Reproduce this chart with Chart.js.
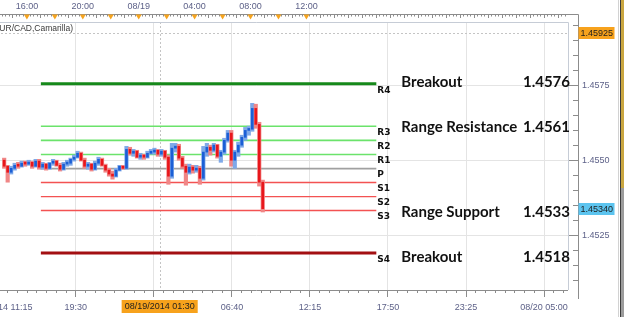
<!DOCTYPE html>
<html>
<head>
<meta charset="utf-8">
<script src="https://cdn.jsdelivr.net/npm/chart.js@4.4.1/dist/chart.umd.min.js"></script>
<style>
  html, body { margin: 0; padding: 0; background: #fff; overflow: hidden; }
  #wrap { position: relative; width: 624px; height: 317px; overflow: hidden; }
  #chart { position: absolute; left: -56px; top: 0; }
  #edge { position: absolute; left: 618px; top: 0; width: 6px; height: 317px;
    background: linear-gradient(to right, #d2d2d2 0 1px, #fff 1px 2px, #3c3c3c 2px 3px, #c9a640 3px 6px); }
  #edge2 { position: absolute; left: 621px; top: 188px; width: 3px; height: 129px; background: #9c9c9c; }
</style>
</head>
<body>
<div id="wrap">
  <canvas id="chart" width="680" height="317"></canvas>
  <div id="edge"></div>
  <div id="edge2"></div>
</div>
<script>
// ---------- data (hours counted from 08/18/2014 00:00) ----------
const SYMBOL_LABEL = "(EUR/CAD,Camarilla)";
const FIRST_BAR_HOUR = 14.25;   // 08/18 14:15
const BAR_HOURS = 0.25;         // 15 minute bars

const OPEN = [1.45501, 1.45481, 1.45461, 1.45474, 1.45484, 1.45481, 1.45491, 1.45488, 1.45494, 1.45481,
  1.45498, 1.45478, 1.45488, 1.45474, 1.45491, 1.45498, 1.45484, 1.45471, 1.45488, 1.45491,
  1.45504, 1.45511, 1.45524, 1.45501, 1.45481, 1.45488, 1.45471, 1.45491, 1.45504, 1.45484,
  1.45468, 1.45455, 1.45448, 1.45468, 1.45481, 1.45474, 1.45537, 1.45524, 1.45531, 1.45511,
  1.45518, 1.45511, 1.45524, 1.45528, 1.45534, 1.45521, 1.45531, 1.45511, 1.45448, 1.45541,
  1.45547, 1.45508, 1.45481, 1.45461, 1.45478, 1.45468, 1.45474, 1.45441, 1.45528, 1.45544,
  1.45534, 1.45551, 1.45514, 1.45528, 1.45567, 1.45591, 1.45501, 1.45528, 1.45551, 1.45577,
  1.45600, 1.45604, 1.45673, 1.45620, 1.45428];
const HIGH = [1.45508, 1.45484, 1.45481, 1.45491, 1.45494, 1.45498, 1.45498, 1.45501, 1.45498, 1.45504,
  1.45504, 1.45494, 1.45491, 1.45494, 1.45504, 1.45501, 1.45491, 1.45494, 1.45501, 1.45508,
  1.45518, 1.45531, 1.45528, 1.45508, 1.45494, 1.45491, 1.45498, 1.45511, 1.45508, 1.45488,
  1.45474, 1.45465, 1.45474, 1.45484, 1.45484, 1.45547, 1.45544, 1.45537, 1.45534, 1.45524,
  1.45521, 1.45531, 1.45537, 1.45541, 1.45537, 1.45537, 1.45534, 1.45518, 1.45557, 1.45557,
  1.45554, 1.45514, 1.45488, 1.45488, 1.45484, 1.45484, 1.45481, 1.45547, 1.45557, 1.45551,
  1.45557, 1.45554, 1.45534, 1.45574, 1.45600, 1.45600, 1.45534, 1.45561, 1.45584, 1.45610,
  1.45614, 1.45690, 1.45687, 1.45627, 1.45435];
const LOW = [1.45474, 1.45428, 1.45455, 1.45468, 1.45474, 1.45478, 1.45481, 1.45484, 1.45474, 1.45478,
  1.45471, 1.45471, 1.45468, 1.45471, 1.45484, 1.45481, 1.45465, 1.45468, 1.45481, 1.45484,
  1.45498, 1.45508, 1.45498, 1.45474, 1.45471, 1.45465, 1.45468, 1.45484, 1.45481, 1.45461,
  1.45448, 1.45438, 1.45445, 1.45465, 1.45471, 1.45471, 1.45518, 1.45514, 1.45508, 1.45504,
  1.45504, 1.45508, 1.45521, 1.45521, 1.45514, 1.45514, 1.45504, 1.45421, 1.45441, 1.45528,
  1.45501, 1.45474, 1.45418, 1.45455, 1.45458, 1.45461, 1.45421, 1.45435, 1.45514, 1.45518,
  1.45528, 1.45508, 1.45494, 1.45521, 1.45561, 1.45481, 1.45474, 1.45514, 1.45544, 1.45567,
  1.45584, 1.45597, 1.45607, 1.45415, 1.45329];
const CLOSE = [1.45481, 1.45461, 1.45474, 1.45484, 1.45481, 1.45491, 1.45488, 1.45494, 1.45481, 1.45498,
  1.45478, 1.45488, 1.45474, 1.45491, 1.45498, 1.45484, 1.45471, 1.45488, 1.45491, 1.45504,
  1.45511, 1.45524, 1.45501, 1.45481, 1.45488, 1.45471, 1.45491, 1.45504, 1.45484, 1.45468,
  1.45455, 1.45448, 1.45468, 1.45481, 1.45474, 1.45537, 1.45524, 1.45531, 1.45511, 1.45518,
  1.45511, 1.45524, 1.45528, 1.45534, 1.45521, 1.45531, 1.45511, 1.45448, 1.45541, 1.45547,
  1.45508, 1.45481, 1.45461, 1.45478, 1.45468, 1.45474, 1.45441, 1.45528, 1.45544, 1.45534,
  1.45551, 1.45514, 1.45528, 1.45567, 1.45591, 1.45501, 1.45528, 1.45551, 1.45577, 1.45600,
  1.45604, 1.45673, 1.45620, 1.45428, 1.45340];

// Camarilla levels, drawn from 08/18 17:00 to 08/19 17:00
const LEVEL_NAMES = ['R4', 'R3', 'R2', 'R1', 'P', 'S1', 'S2', 'S3', 'S4'];
const LEVEL_VALUES = [1.45755, 1.45614, 1.45567, 1.45520, 1.45473, 1.45427, 1.45380, 1.45334, 1.45193];
const LEVEL_START = 17;
const LEVEL_END = 41;

// text notes on the right
const NOTE_LABELS = ['Breakout', 'Range Resistance', 'Range Support', 'Breakout'];
const NOTE_VALUES = ['1.4576', '1.4561', '1.4533', '1.4518'];

// axes
const TOP_TICK_HOURS = [16, 20, 24, 28, 32, 36];
const TOP_TICK_LABELS = ['16:00', '20:00', '08/19', '04:00', '08:00', '12:00'];
const MARKER_HOURS = [16, 18, 20, 22, 24, 26, 28, 30, 32, 34, 36];
const BOTTOM_TICK_HOURS = [13.917, 19.5, 25.083, 30.667, 36.25, 41.833, 47.417, 53];
const BOTTOM_TICK_LABELS = ['08/18/2014 11:15', '19:30', '01:05', '06:40', '12:15', '17:50', '23:25', '08/20 05:00'];
const PRICE_LABELS = ['1.4525', '1.4550', '1.4575'];

// crosshair
const CURSOR_HOUR = 25.5;
const CURSOR_LABEL = '08/19/2014 01:30';
const CURSOR_PRICE = 1.45925;

const X_MIN = 10.143, X_MAX = 54.714;
const Y_MIN = 1.4507, Y_MAX = 1.4596;

// ---------- styles ----------
const LEVEL_STYLE = {
  R4: ['#16891a', 3], R3: ['#6be36b', 1.6], R2: ['#6be36b', 1.6], R1: ['#6be36b', 1.6],
  P: ['#a0a0a0', 1.6], S1: ['#f35252', 1.4], S2: ['#f35252', 1.4], S3: ['#f35252', 1.4], S4: ['#a30f12', 3]
};
const UP_BODY = '#1b5fd6', UP_WICK = '#7fa9e8';
const DOWN_BODY = '#e8161b', DOWN_WICK = '#f08686';
const GRID = '#e4e4e4', AXIS = '#8c8c8c', FRAME = '#c6ccd6';
const TEXT = '#5d6188';

Chart.defaults.font.family = "'Liberation Sans', Arial, sans-serif";
Chart.defaults.font.size = 9;
Chart.defaults.color = TEXT;

// ---------- ticks ----------
function bottomTicks() {
  const out = [];
  const step = (BOTTOM_TICK_HOURS[1] - BOTTOM_TICK_HOURS[0]) / 8;
  for (let k = 5; k >= 1; k--) out.push({ value: BOTTOM_TICK_HOURS[0] - k * step, label: '', major: false });
  BOTTOM_TICK_HOURS.forEach((h, i) => {
    out.push({ value: h, label: BOTTOM_TICK_LABELS[i], major: true });
    const next = BOTTOM_TICK_HOURS[i + 1];
    const s = next ? (next - h) / 8 : step;
    for (let k = 1; k < 8; k++) {
      const v = h + k * s;
      if (v <= X_MAX) out.push({ value: v, label: '', major: false });
    }
  });
  return out;
}
function topTicks() {
  const out = [];
  for (let q = Math.ceil(X_MIN * 4); q <= X_MAX * 4; q++) {
    const v = q / 4;
    const k = TOP_TICK_HOURS.indexOf(v);
    out.push({ value: v, label: k >= 0 ? TOP_TICK_LABELS[k] : '', hour: q % 4 === 0 });
  }
  return out;
}
function priceTicks() {
  const out = [];
  for (let p = Math.ceil(Y_MIN * 2000); p <= Y_MAX * 2000; p++) {
    const v = p / 2000;
    const label = PRICE_LABELS.find(s => Math.abs(parseFloat(s) - v) < 1e-7) || '';
    out.push({ value: v, label: label, major: label !== '' });
  }
  return out;
}
const BT = bottomTicks(), TT = topTicks(), PT = priceTicks();

// ---------- datasets ----------
const barTimes = OPEN.map((_, i) => FIRST_BAR_HOUR + (i + 0.5) * BAR_HOURS);
const isUp = i => CLOSE[i] >= OPEN[i];

const datasets = [
  {
    type: 'bar', order: 1, grouped: false, barThickness: 3.5,
    data: barTimes.map((t, i) => ({ x: t, y: [LOW[i], HIGH[i]] })),
    backgroundColor: c => isUp(c.dataIndex) ? UP_WICK : DOWN_WICK
  },
  {
    type: 'bar', order: 0, grouped: false, barThickness: 2, minBarLength: 2,
    data: barTimes.map((t, i) => ({ x: t, y: [OPEN[i], CLOSE[i]] })),
    backgroundColor: c => isUp(c.dataIndex) ? UP_BODY : DOWN_BODY
  }
];
LEVEL_NAMES.forEach((name, i) => {
  datasets.push({
    type: 'line', order: 2,
    data: [{ x: LEVEL_START, y: LEVEL_VALUES[i] }, { x: LEVEL_END, y: LEVEL_VALUES[i] }],
    borderColor: LEVEL_STYLE[name][0], borderWidth: LEVEL_STYLE[name][1], pointRadius: 0
  });
});

// ---------- extra drawing ----------
const decor = {
  id: 'decor',
  beforeDatasetsDraw(chart) {
    const { ctx, chartArea: a } = chart;
    const x = chart.scales.x, y = chart.scales.y;
    const cy = Math.round(y.getPixelForValue(CURSOR_PRICE)) + 0.5;
    const cx = Math.round(x.getPixelForValue(CURSOR_HOUR)) + 0.5;
    ctx.save();
    ctx.strokeStyle = '#c4c4c4';
    ctx.lineWidth = 1;
    ctx.setLineDash([2, 2]);
    ctx.beginPath();
    ctx.moveTo(a.left, cy); ctx.lineTo(a.right, cy);
    ctx.moveTo(cx, a.top); ctx.lineTo(cx, a.bottom);
    ctx.stroke();
    ctx.restore();
  },
  afterDraw(chart) {
    const { ctx, chartArea: a } = chart;
    const x = chart.scales.x, y = chart.scales.y;
    const axisX = Math.round(y.left + 10) + 0.5;
    const rulerY = a.top - 8 + 0.5;
    ctx.save();

    // plot frame, ruler and price axis line
    ctx.lineWidth = 1;
    ctx.strokeStyle = FRAME;
    ctx.beginPath();
    ctx.moveTo(a.left, a.top + 0.5); ctx.lineTo(a.right + 0.5, a.top + 0.5); ctx.lineTo(a.right + 0.5, a.bottom);
    ctx.stroke();
    ctx.strokeStyle = AXIS;
    ctx.beginPath();
    ctx.moveTo(a.left, a.bottom + 0.5); ctx.lineTo(a.right, a.bottom + 0.5);
    ctx.moveTo(a.left, rulerY); ctx.lineTo(axisX, rulerY);
    ctx.moveTo(axisX, rulerY); ctx.lineTo(axisX, a.bottom + 9);
    ctx.stroke();

    // orange markers on the time ruler
    ctx.fillStyle = '#f6a41e';
    MARKER_HOURS.forEach(h => {
      const px = x.getPixelForValue(h);
      ctx.beginPath();
      ctx.moveTo(px - 3, rulerY); ctx.lineTo(px + 3, rulerY); ctx.lineTo(px, rulerY + 5);
      ctx.closePath(); ctx.fill();
    });

    // level names
    ctx.fillStyle = '#111';
    ctx.font = "bold 9px 'DejaVu Sans'";
    ctx.textBaseline = 'top';
    ctx.textAlign = 'left';
    const endX = x.getPixelForValue(LEVEL_END);
    LEVEL_NAMES.forEach((name, i) => {
      ctx.fillText(name, endX + 1, y.getPixelForValue(LEVEL_VALUES[i]) + 2);
    });

    // notes
    ctx.font = "bold 15px Lato";
    ctx.textBaseline = 'middle';
    NOTE_LABELS.forEach((label, i) => {
      const py = y.getPixelForValue(parseFloat(NOTE_VALUES[i]));
      ctx.textAlign = 'left';
      ctx.fillText(label, endX + 25, py);
      ctx.textAlign = 'right';
      ctx.fillText(NOTE_VALUES[i], a.right + 2, py);
    });

    // price boxes on the axis
    ctx.font = "9px 'Liberation Sans'";
    ctx.textAlign = 'left';
    const lastPrice = CLOSE[CLOSE.length - 1];
    [[CURSOR_PRICE, '#f7a21c'], [lastPrice, '#5cc4ef']].forEach(([p, col]) => {
      const py = Math.round(y.getPixelForValue(p));
      ctx.fillStyle = col;
      ctx.fillRect(axisX, py - 6, 36, 12);
      ctx.fillStyle = '#1e1e1e';
      ctx.fillText(p.toFixed(5), axisX + 2, py + 0.5);
    });

    // time box under the cursor
    const cx = x.getPixelForValue(CURSOR_HOUR);
    const w = ctx.measureText(CURSOR_LABEL).width + 6;
    ctx.fillStyle = '#f7a21c';
    ctx.fillRect(cx - w / 2, a.bottom + 10, w, 13);
    ctx.fillStyle = '#1e1e1e';
    ctx.textAlign = 'center';
    ctx.fillText(CURSOR_LABEL, cx, a.bottom + 16.5);

    // symbol caption
    ctx.font = "8.5px 'Liberation Sans'";
    ctx.fillStyle = '#3a3a3a';
    ctx.textAlign = 'right';
    ctx.fillText(SYMBOL_LABEL, a.left + 128, a.top + 6.5);
    ctx.restore();
  }
};

new Chart(document.getElementById('chart'), {
  type: 'line',
  data: { datasets: datasets },
  plugins: [decor],
  options: {
    responsive: false,
    animation: false,
    layout: { padding: 0 },
    plugins: { legend: { display: false }, tooltip: { enabled: false } },
    scales: {
      x: {
        type: 'linear', position: 'bottom', min: X_MIN, max: X_MAX, offset: false,
        afterBuildTicks: s => { s.ticks = BT.map(t => ({ value: t.value })); },
        afterFit: s => { s.height = 27; },
        ticks: { autoSkip: false, maxRotation: 0, padding: 5, callback: (v, i) => BT[i].label },
        grid: {
          offset: false, tickLength: 7, tickColor: AXIS,
          color: c => BT[c.index] && BT[c.index].major ? GRID : 'rgba(0,0,0,0)',
          tickBorderDash: c => BT[c.index] && BT[c.index].major ? [] : [3, 20]
        },
        border: { display: false }
      },
      xTop: {
        type: 'linear', position: 'top', min: X_MIN, max: X_MAX, offset: false,
        afterBuildTicks: s => { s.ticks = TT.map(t => ({ value: t.value })); },
        afterFit: s => { s.height = 22; },
        ticks: { autoSkip: false, maxRotation: 0, padding: 2, callback: (v, i) => TT[i].label },
        grid: {
          drawOnChartArea: false, tickLength: 8, tickColor: AXIS,
          tickBorderDash: c => TT[c.index] && TT[c.index].hour ? [4, 20] : [2.5, 20]
        },
        border: { display: false }
      },
      y: {
        type: 'linear', position: 'right', min: Y_MIN, max: Y_MAX,
        afterBuildTicks: s => { s.ticks = PT.map(t => ({ value: t.value })); },
        afterFit: s => { s.width = 56; },
        ticks: { padding: 4, callback: (v, i) => PT[i].label },
        grid: {
          tickLength: 10, tickColor: AXIS,
          color: c => PT[c.index] && PT[c.index].major ? GRID : 'rgba(0,0,0,0)',
          tickBorderDash: c => PT[c.index] && PT[c.index].major ? [] : [5, 5],
          tickBorderDashOffset: c => PT[c.index] && PT[c.index].major ? 0 : 5
        },
        border: { display: false }
      }
    }
  }
});
</script>
</body>
</html>
